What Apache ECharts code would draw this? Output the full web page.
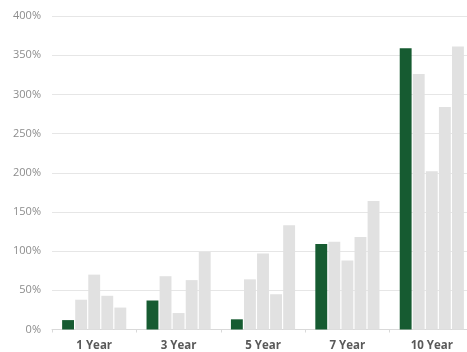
<!DOCTYPE html>
<html><head><meta charset="utf-8">
<script src="https://cdn.jsdelivr.net/npm/echarts@6/dist/echarts.min.js"></script>
<style>html,body{margin:0;padding:0;background:#fff}#c{width:467px;height:352px}</style>
</head><body><div id="c"></div>
<script>
const categories = ['1 Year', '3 Year', '5 Year', '7 Year', '10 Year'];
const yTicks = [0, 50, 100, 150, 200, 250, 300, 350, 400];
const seriesA = [12, 37, 13, 109, 359];
const seriesB = [38, 68, 64, 112, 326];
const seriesC = [70, 21, 97, 88, 202];
const seriesD = [43, 63, 45, 118, 284];
const seriesE = [28, 99, 133, 164, 361];
const allSeries = [seriesA, seriesB, seriesC, seriesD, seriesE];
const colors = ['#165b31', '#e1e1e1', '#e1e1e1', '#e1e1e1', '#e1e1e1'];

const chart = echarts.init(document.getElementById('c'));
chart.setOption({
  animation: false,
  grid: { left: 52, width: 422, top: 16, bottom: 22.5, containLabel: false, outerBoundsMode: 'none' },
  xAxis: {
    type: 'category', data: categories,
    axisLine: { show: true, lineStyle: { color: '#d9d9d9', width: 1 } },
    axisTick: { show: true, length: 3, lineStyle: { color: '#d9d9d9' } },
    axisLabel: { color: '#595959', fontFamily: 'Open Sans', fontWeight: 'bold', fontSize: 11.5, margin: 10 }
  },
  yAxis: {
    type: 'value', min: yTicks[0], max: yTicks[yTicks.length - 1], interval: 50,
    axisLine: { show: false }, axisTick: { show: false },
    splitLine: { lineStyle: { color: '#e6e6e6', width: 1 } },
    axisLabel: { color: '#8c8c8c', fontFamily: 'Open Sans', fontSize: 11, margin: 11, formatter: v => v + '%' }
  },
  series: allSeries.map((d, i) => ({
    type: 'bar', data: d, barGap: '10%', barCategoryGap: '24%',
    itemStyle: { color: colors[i] }
  }))
});
</script></body></html>
